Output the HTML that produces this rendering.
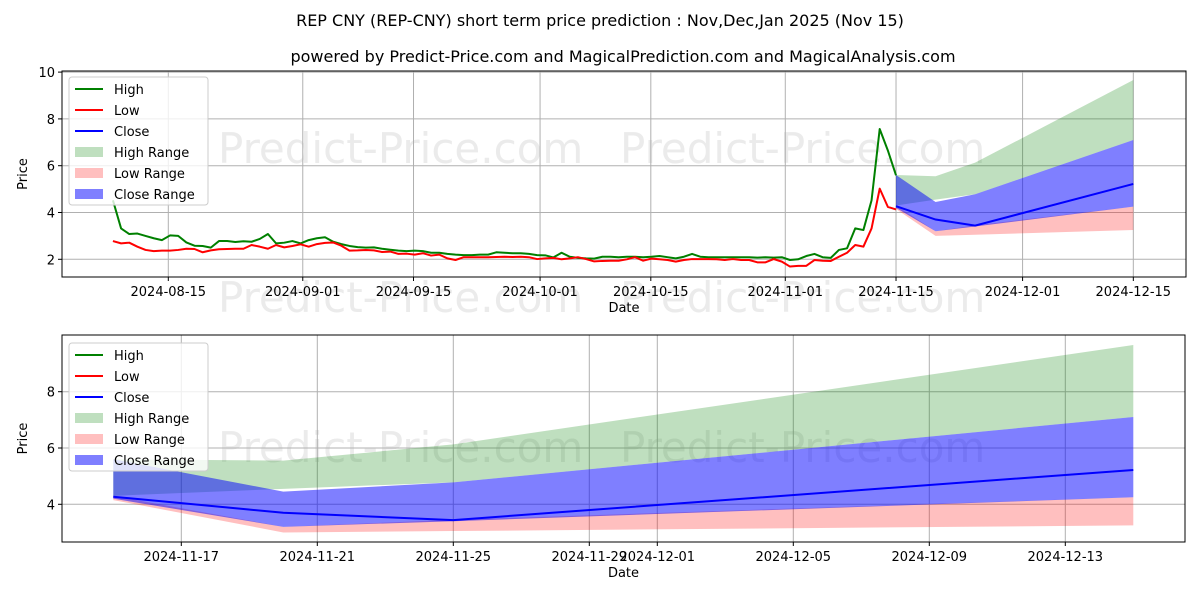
<!DOCTYPE html>
<html><head><meta charset="utf-8"><style>
body{margin:0;background:#fff}
svg{display:block;font-family:"DejaVu Sans","Liberation Sans",sans-serif}
</style></head><body>
<svg id="chart" width="1200" height="600" viewBox="0 0 1200 600">
<rect width="1200" height="600" fill="#fff"/>
<g id="wm"></g>
<text x="600" y="26" text-anchor="middle" font-size="16">REP CNY (REP-CNY) short term price prediction : Nov,Dec,Jan 2025 (Nov 15)</text>
<text x="623" y="62" text-anchor="middle" font-size="16">powered by Predict-Price.com and MagicalPrediction.com and MagicalAnalysis.com</text>
<g id="top"></g>
<g id="bot"></g>
</svg>
<script>
// Historical daily data 2024-08-08 .. 2024-11-15
const histHigh = [4.52,3.32,3.08,3.1,3.0,2.9,2.82,3.02,3.0,2.72,2.58,2.57,2.5,2.78,2.78,2.74,2.77,2.75,2.87,3.08,2.68,2.71,2.78,2.68,2.82,2.9,2.94,2.75,2.65,2.57,2.52,2.5,2.51,2.45,2.41,2.37,2.35,2.37,2.35,2.28,2.28,2.23,2.2,2.18,2.18,2.2,2.2,2.3,2.28,2.26,2.26,2.23,2.18,2.17,2.08,2.28,2.11,2.06,2.04,2.03,2.11,2.11,
2.09,2.11,2.11,2.09,2.11,2.14,2.09,2.04,2.11,2.23,2.11,2.09,2.09,2.09,2.09,2.09,2.09,2.07,2.09,2.07,2.09,1.97,2.0,2.14,2.23,2.09,2.06,2.4,2.47,3.32,3.25,4.52,7.57,6.65,5.59];
const histLow = [2.78,2.68,2.71,2.54,2.4,2.35,2.37,2.37,2.4,2.45,2.44,2.3,2.38,2.43,2.44,2.45,2.45,2.61,2.54,2.45,2.61,2.51,2.57,2.64,2.54,2.65,2.7,2.72,2.58,2.37,2.38,2.4,2.38,2.31,2.33,2.23,2.24,2.2,2.26,2.16,2.2,2.04,1.97,2.09,2.09,2.09,2.09,2.1,2.11,2.1,2.11,2.09,2.01,2.04,2.06,2.0,2.04,2.09,2.01,1.91,1.93,1.94,
1.94,2.0,2.09,1.94,2.03,2.0,1.97,1.9,1.97,2.01,2.01,2.01,2.0,1.97,2.01,1.97,1.97,1.87,1.87,2.01,1.9,1.69,1.72,1.72,1.97,1.94,1.93,2.11,2.28,2.61,2.54,3.32,5.02,4.24,4.13];
const histStartDay = -7; // 2024-08-08 relative to 2024-08-15
// Forecast (days after 2024-11-15)
const fcDays = [0,5,10,30];
const fcClose = [4.27,3.7,3.44,5.22];
const highRangeUpper = [5.6,5.55,6.13,9.66];
const highRangeLower = [4.3,4.55,4.78,7.1];
const lowRangeUpper = [4.3,3.2,3.45,4.25];
const lowRangeLower = [4.15,3.0,3.05,3.25];
const closeRangeUpper = [5.6,4.45,4.78,7.1];
const closeRangeLower = [4.2,3.2,3.4,4.25];
const topTicksY = [2,4,6,8,10];
const botTicksY = [4,6,8];
const topTicksX = [[0,'2024-08-15'],[17,'2024-09-01'],[31,'2024-09-15'],[47,'2024-10-01'],[61,'2024-10-15'],[78,'2024-11-01'],[92,'2024-11-15'],[108,'2024-12-01'],[122,'2024-12-15']];
const botTicksX = [[94,'2024-11-17'],[98,'2024-11-21'],[102,'2024-11-25'],[106,'2024-11-29'],[108,'2024-12-01'],[112,'2024-12-05'],[116,'2024-12-09'],[120,'2024-12-13']];

const NS='http://www.w3.org/2000/svg';
function mk(parent,tag,attrs,text){const e=document.createElementNS(NS,tag);for(const k in attrs)e.setAttribute(k,attrs[k]);if(text!==undefined)e.textContent=text;parent.appendChild(e);return e;}
const FC0=92;
const wmG=document.getElementById('wm');
[[218,163],[620,163],[218,312],[620,312],[218,462],[620,462]].forEach(p=>{
  const w=mk(wmG,'text',{x:p[0],y:p[1],'font-size':42,fill:'#ebebeb'},'Predict-Price.com');
  
  
});
function panel(g,cfg){
  const {L,R,T,B,xs,ys,ticksY,ticksX,showHist,legY}=cfg;
  const cp='clip'+T;
  const defs=mk(g,'defs',{});const c=mk(defs,'clipPath',{id:cp});mk(c,'rect',{x:L,y:T,width:R-L,height:B-T});
  ticksY.forEach(v=>{const y=ys(v);const l=mk(g,'line',{x1:L,x2:R,y1:y,y2:y,stroke:'#b0b0b0','stroke-width':1});
    
    
    mk(g,'line',{x1:L-4,x2:L,y1:y,y2:y,stroke:'#000'});
    const t=mk(g,'text',{x:L-7,y:y+5,'text-anchor':'end','font-size':13},String(v));
    
    });
  ticksX.forEach(tk=>{const x=xs(tk[0]);const l=mk(g,'line',{x1:x,x2:x,y1:T,y2:B,stroke:'#b0b0b0','stroke-width':1});
    
    
    mk(g,'line',{x1:x,x2:x,y1:B,y2:B+4,stroke:'#000'});
    const t=mk(g,'text',{x:x,y:B+19,'text-anchor':'middle','font-size':13},tk[1]);
    
    });
  const cg=mk(g,'g',{'clip-path':'url(#'+cp+')'});
  function band(up,lo,fill,op,name){
    let d='M';fcDays.forEach((dd,i)=>{d+=xs(FC0+dd)+','+ys(up[i])+' L';});
    for(let i=fcDays.length-1;i>=0;i--){d+=xs(FC0+fcDays[i])+','+ys(lo[i])+(i?' L':' Z');}
    const p=mk(cg,'path',{d:d,fill:fill,'fill-opacity':op});
    
    
  }
  band(highRangeUpper,highRangeLower,'#008000',0.25,'high-range-band');
  band(lowRangeUpper,lowRangeLower,'#ff0000',0.25,'low-range-band');
  band(closeRangeUpper,closeRangeLower,'#0000ff',0.5,'close-range-band');
  function line(vals,color,name){
    const step=(FC0-histStartDay)/(vals.length-1);
    const pts=vals.map((v,i)=>xs(histStartDay+i*step)+','+ys(v));
    const p=mk(cg,'polyline',{points:pts.join(' '),fill:'none',stroke:color,'stroke-width':2,'stroke-linejoin':'round'});
    
    
  }
  if(showHist){
    line(histHigh,'#008000','high-line');
    line(histLow,'#ff0000','low-line');
  }
  const cpts=fcDays.map((dd,i)=>xs(FC0+dd)+','+ys(fcClose[i]));
  const cl=mk(cg,'polyline',{points:cpts.join(' '),fill:'none',stroke:'#0000ff','stroke-width':2});
  
  
  const fr=mk(g,'rect',{x:L,y:T,width:R-L,height:B-T,fill:'none',stroke:'#000','stroke-width':1});
  
  
  const xl=mk(g,'text',{x:(L+R)/2,y:B+35,'text-anchor':'middle','font-size':13},'Date');
  
  
  const yc=(T+B)/2;
  const yl=mk(g,'text',{x:27,y:yc,'text-anchor':'middle','font-size':13,transform:'rotate(-90 27 '+yc+')'},'Price');
  
  
  const lg=mk(g,'g',{});
  
  
  mk(lg,'rect',{x:L+7,y:legY,width:139,height:128,rx:3,fill:'#fff','fill-opacity':0.8,stroke:'#ccc'});
  const items=[['High','#008000','l'],['Low','#ff0000','l'],['Close','#0000ff','l'],['High Range','rgba(0,128,0,0.25)','p'],['Low Range','rgba(255,0,0,0.25)','p'],['Close Range','rgba(0,0,255,0.5)','p']];
  items.forEach((it,i)=>{const y=legY+12+i*21;
    const e=mk(lg,'g',{});
    
    
    if(it[2]==='l')mk(e,'line',{x1:L+13,x2:L+41,y1:y,y2:y,stroke:it[1],'stroke-width':2});
    else mk(e,'rect',{x:L+13,y:y-5,width:28,height:10,fill:it[1]});
    mk(e,'text',{x:L+52,y:y+5,'font-size':13},it[0]);});
}
panel(document.getElementById('top'),{L:62,R:1186,T:71,B:277,
  xs:d=>168.3+d*7.91, ys:v=>259.3-(v-2)*23.4, ticksY:topTicksY, ticksX:topTicksX, showHist:true, legY:77});
panel(document.getElementById('bot'),{L:62,R:1185,T:335,B:542,
  xs:d=>113.3+(d-FC0)*34, ys:v=>391.7-(v-8)*28.15, ticksY:botTicksY, ticksX:botTicksX, showHist:false, legY:343});
</script>
</body></html>
